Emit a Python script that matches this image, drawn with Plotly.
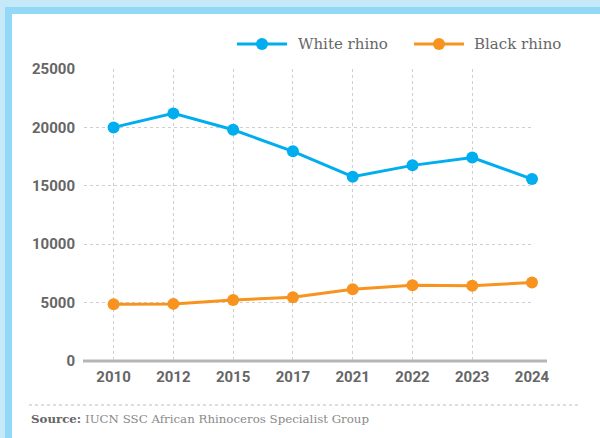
import plotly.graph_objects as go

years = ["2010", "2012", "2015", "2017", "2021", "2022", "2023", "2024"]
white_rhino = [20000, 21200, 19800, 17950, 15780, 16750, 17420, 15580]
black_rhino = [4860, 4890, 5230, 5460, 6150, 6490, 6450, 6720]
y_ticks = [0, 5000, 10000, 15000, 20000, 25000]
series_names = ["White rhino", "Black rhino"]
series_colors = ["#00aeef", "#f7931e"]
source_label = "Source:"
source_text = "IUCN SSC African Rhinoceros Specialist Group"

W, H = 600, 438
L, R, T, B = 84, 532, 69, 361  # plot area in px


def px(x):
    return (x - L) / (R - L)


def py(y):
    return (B - y) / (B - T)


fig = go.Figure()
for name, vals, col in zip(series_names, [white_rhino, black_rhino], series_colors):
    fig.add_trace(go.Scatter(
        x=years, y=vals, name=name, mode="lines+markers", cliponaxis=False,
        line=dict(color=col, width=3), marker=dict(size=12, color=col),
        showlegend=False,
    ))

shapes = []
annotations = []
# frame
light, dark = "#c5e9f9", "#93d8f7"
for (x0, y0, x1, y1, c) in [
    (0, 0, 5, 460, light), (0, 0, 620, 7, light),
    (5, 7, 12, 460, dark), (5, 7, 620, 14, dark),
]:
    shapes.append(dict(type="rect", xref="paper", yref="paper",
                       x0=px(x0), x1=px(x1), y0=py(y0), y1=py(y1),
                       fillcolor=c, line=dict(width=0), layer="below"))
# baseline
shapes.append(dict(type="line", xref="paper", yref="paper",
                   x0=px(83), x1=px(547), y0=0, y1=0,
                   line=dict(color="#b5b5b5", width=3), layer="below"))
# source separator
shapes.append(dict(type="line", xref="paper", yref="paper",
                   x0=px(29), x1=px(578), y0=py(405), y1=py(405),
                   line=dict(color="#bdbdbd", width=1, dash="dot")))

# legend (drawn manually to match symbol length)
leg_y = 44
for name, col, lx0, tx in zip(series_names, series_colors, [237, 414], [296, 472]):
    shapes.append(dict(type="line", xref="paper", yref="paper",
                       x0=px(lx0), x1=px(lx0 + 50), y0=py(leg_y), y1=py(leg_y),
                       line=dict(color=col, width=3)))
    shapes.append(dict(type="circle", xref="paper", yref="paper",
                       x0=px(lx0 + 25 - 6), x1=px(lx0 + 25 + 6),
                       y0=py(leg_y - 6), y1=py(leg_y + 6),
                       fillcolor=col, line=dict(width=0)))
    annotations.append(dict(xref="paper", yref="paper", x=px(tx), y=py(leg_y),
                            xanchor="left", yanchor="middle", showarrow=False,
                            text=name, font=dict(family="DejaVu Serif", size=15, color="#666666")))

annotations.append(dict(
    xref="paper", yref="paper", x=px(29), y=py(419), xanchor="left", yanchor="middle",
    showarrow=False,
    text=f"<b>{source_label}</b> <span style='color:#8a8a8a'>{source_text}</span>",
    font=dict(family="DejaVu Serif", size=11.8, color="#666666"),
))

fig.update_layout(
    width=W, height=H,
    margin=dict(l=L, r=W - R, t=T, b=H - B),
    paper_bgcolor="white", plot_bgcolor="rgba(0,0,0,0)",
    font=dict(family="DejaVu Serif", color="#666666"),
    shapes=shapes, annotations=annotations,
    showlegend=False,
)
fig.update_xaxes(
    type="category", range=[-0.495, 7.0], showgrid=True,
    gridcolor="#cfcfcf", griddash="dot", gridwidth=1,
    showline=False, zeroline=False, ticks="", ticklabelstandoff=5,
    tickfont=dict(family="Roboto", size=15, color="#666666", weight="bold"),
)
fig.update_yaxes(
    range=[0, 25000], tickvals=y_ticks, ticktext=[str(v) for v in y_ticks],
    showgrid=True, gridcolor="#cfcfcf", griddash="dot", gridwidth=1,
    showline=False, zeroline=False, ticks="", ticklabelstandoff=8,
    tickfont=dict(family="Roboto", size=15, color="#666666", weight="bold"),
)

fig.write_html("out.html")
